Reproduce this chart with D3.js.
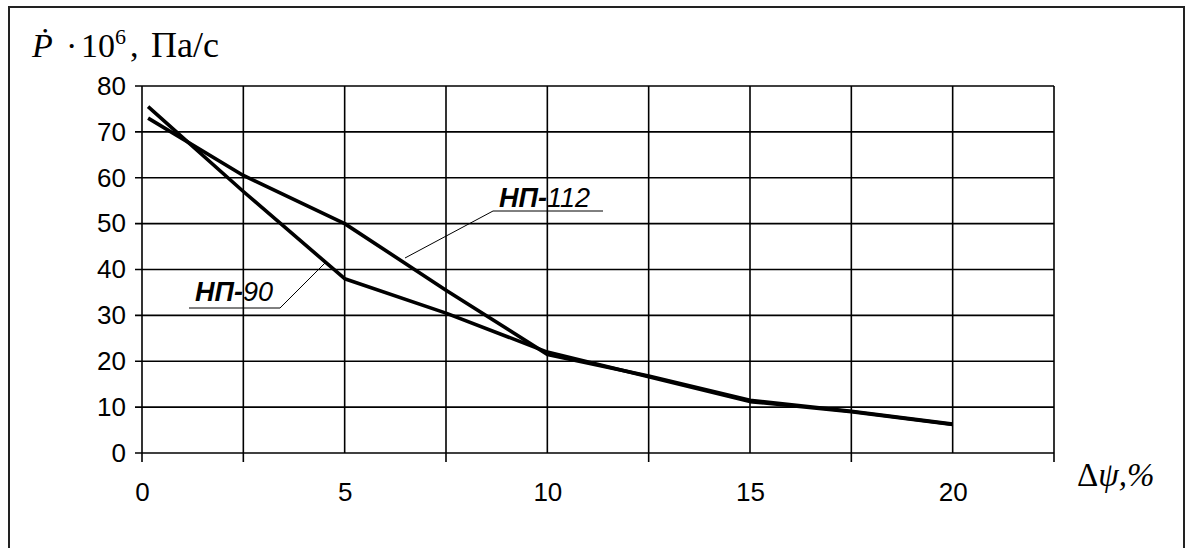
<!DOCTYPE html>
<html>
<head>
<meta charset="utf-8">
<script src="https://d3js.org/d3.v7.min.js"></script>
<style>
  body { margin: 0; background: #fff; }
  .tick text { font-family: "Liberation Sans", Arial, sans-serif; font-size: 26px; fill: #000; }
  .grid line { stroke: #000; stroke-width: 1.6px; }
  .curve { fill: none; stroke: #000; stroke-width: 3.6px; stroke-linejoin: round; }
  .leader { stroke: #000; stroke-width: 1px; }
  .lbl { font-family: "Liberation Sans", Arial, sans-serif; font-size: 27px; font-style: italic; }
</style>
</head>
<body>
<div id="chart"></div>
<script>
// data
var xTicks = [0, 5, 10, 15, 20];
var xGrid = [0, 2.5, 5, 7.5, 10, 12.5, 15, 17.5, 20, 22.5];
var xTicksBelow = [0, 2.5, 7.5, 12.5, 17.5, 22.5];
var yTicks = [0, 10, 20, 30, 40, 50, 60, 70, 80];

var np90X = [0.15, 2.5, 5, 7.5, 10, 12.5, 15, 17.5, 20];
var np90Y = [75.5, 57, 38, 30.5, 22, 16.6, 11.2, 9, 6.2];
var np112X = [0.15, 2.5, 5, 7.5, 10, 12.5, 15, 17.5, 20];
var np112Y = [73, 60.5, 50, 35.5, 21.5, 16.8, 11.5, 9.1, 6.3];

var width = 1186, height = 548;
var svg = d3.select("#chart").append("svg")
  .attr("width", width)
  .attr("height", height);

// outer frame
svg.append("rect")
  .attr("x", 9).attr("y", 7)
  .attr("width", 1175).attr("height", 560)
  .attr("fill", "none").attr("stroke", "#222").attr("stroke-width", 2);

var x = d3.scaleLinear().domain([0, 22.5]).range([142, 1054]);
var y = d3.scaleLinear().domain([0, 80]).range([453, 86]);

// grid
var grid = svg.append("g").attr("class", "grid");
grid.selectAll(".v").data(xGrid).enter().append("line")
  .attr("x1", x).attr("x2", x)
  .attr("y1", y(80)).attr("y2", y(0));
grid.selectAll(".vb").data(xTicksBelow).enter().append("line")
  .attr("x1", x).attr("x2", x)
  .attr("y1", y(0)).attr("y2", y(0) + 9);
grid.selectAll(".h").data(yTicks).enter().append("line")
  .attr("x1", x(0) - 7).attr("x2", x(22.5))
  .attr("y1", y).attr("y2", y);

// axes labels through d3 axes
var yAxis = d3.axisLeft(y).tickValues(yTicks).tickSize(0).tickPadding(16);
svg.append("g").attr("transform", "translate(" + x(0) + ",0)").call(yAxis)
  .call(function(g) { g.select(".domain").remove(); });

var xAxis = d3.axisBottom(x).tickValues(xTicks).tickSize(0).tickPadding(30);
svg.append("g").attr("transform", "translate(0," + y(0) + ")").call(xAxis)
  .call(function(g) { g.select(".domain").remove(); });

// curves
var line = d3.line()
  .x(function(d) { return x(d[0]); })
  .y(function(d) { return y(d[1]); });

svg.append("path").attr("class", "curve")
  .attr("d", line(d3.zip(np112X, np112Y)));
svg.append("path").attr("class", "curve")
  .attr("d", line(d3.zip(np90X, np90Y)));

// labels with leaders
function label(tx, ty, num, uy, ux1, ux2, lx, ly) {
  var t = svg.append("text").attr("class", "lbl").attr("x", tx).attr("y", ty);
  t.append("tspan").attr("font-weight", "bold").text("НП-");
  t.append("tspan").text(num);
  svg.append("line").attr("class", "leader")
    .attr("x1", ux1).attr("x2", ux2).attr("y1", uy).attr("y2", uy);
  var sx = ux2 < lx ? ux2 : ux1;
  svg.append("line").attr("class", "leader")
    .attr("x1", sx).attr("y1", uy).attr("x2", lx).attr("y2", ly);
}
label(195, 301, "90", 308, 189, 280, 327, 261);
label(499, 207, "112", 211, 493, 603, 405, 258);

// axis titles
var title = svg.append("text")
  .attr("y", 57)
  .attr("font-family", "'Liberation Serif', 'Times New Roman', serif")
  .attr("font-size", 34);
title.append("tspan").attr("x", 32).attr("font-style", "italic").text("Ṗ");
title.append("tspan").attr("x", 66).text("·");
title.append("tspan").attr("x", 81).text("10");
title.append("tspan").attr("x", 115).attr("font-size", 22).attr("dy", -13).text("6");
title.append("tspan").attr("x", 130).attr("dy", 13).text(",");
title.append("tspan").attr("x", 151).attr("font-size", 36).text("Па/с");

var xt = svg.append("text")
  .attr("x", 1077).attr("y", 486)
  .attr("font-family", "'Liberation Serif', 'Times New Roman', serif")
  .attr("font-size", 33);
xt.append("tspan").text("Δ");
xt.append("tspan").attr("font-style", "italic").text("ψ,%");
</script>
</body>
</html>
